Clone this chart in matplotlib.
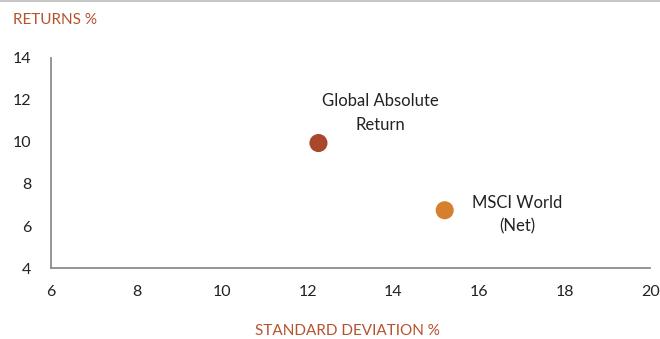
import matplotlib
matplotlib.use("Agg")
import matplotlib.pyplot as plt
from matplotlib.lines import Line2D

# data
names = ["Global Absolute\nReturn", "MSCI World\n(Net)"]
std_dev = [12.25, 15.2]
returns = [9.95, 6.75]
colors = ["#A9472A", "#D5802E"]
x_ticks = [6, 8, 10, 12, 14, 16, 18, 20]
y_ticks = [4, 6, 8, 10, 12, 14]

plt.rcParams['font.family'] = ['Lato', 'DejaVu Sans']

fig = plt.figure(figsize=(6.6, 3.39), dpi=100)
ax = fig.add_axes([0.0773, 0.2094, 0.9077, 0.6196])

ax.scatter(std_dev, returns, s=170, c=colors, zorder=3, linewidths=0)

# labels next to the points
ax.text(std_dev[0] + 1.45, returns[0] + 0.5, names[0], ha="center", va="bottom",
        fontsize=12, color="#222222", linespacing=1.55)
ax.text(std_dev[1] + 1.7, returns[1] - 0.2, names[1], ha="center", va="center",
        fontsize=12, color="#222222", linespacing=1.55)

ax.set_xlim(6, 20)
ax.set_ylim(4, 14)
ax.set_xticks(x_ticks)
ax.set_yticks(y_ticks)
ax.tick_params(length=0, labelsize=11.5, colors="#222222", pad=12)
ax.tick_params(axis="y", pad=14)

for side in ["top", "right"]:
    ax.spines[side].set_visible(False)
for side in ["left", "bottom"]:
    ax.spines[side].set_color("#8c8c8c")
    ax.spines[side].set_linewidth(1.3)

fig.text(0.02, 0.94, "RETURNS %", color="#B5532F", fontsize=11, va="center", ha="left")
fig.text(0.526, 0.024, "STANDARD DEVIATION %", color="#B5532F", fontsize=11,
         va="center", ha="center")

# thin grey rule at the top of the figure
fig.add_artist(Line2D([0, 1], [0.996, 0.996], color="#bdbdbd", linewidth=1.2,
                      transform=fig.transFigure))

fig.savefig("out.png", dpi=100)
